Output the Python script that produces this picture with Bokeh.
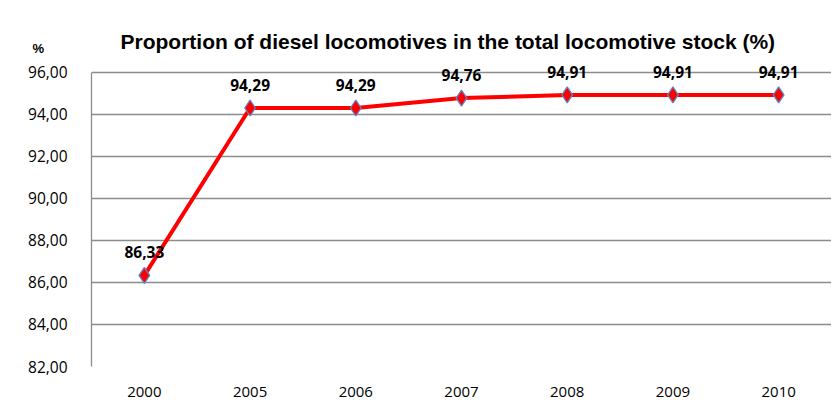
from bokeh.plotting import figure
from bokeh.models import ColumnDataSource, CustomJSTickFormatter, LabelSet, FactorRange, Range1d, SingleIntervalTicker, Title
from bokeh.core.properties import value
from bokeh.embed import file_html
from bokeh.resources import INLINE

years = ["2000", "2005", "2006", "2007", "2008", "2009", "2010"]
shares = [86.33, 94.29, 94.29, 94.76, 94.91, 94.91, 94.91]
labels = [f"{v:.2f}".replace(".", ",") for v in shares]
title_text = "Proportion of diesel locomotives in the total locomotive stock (%)"
unit_text = "%"
y_lo, y_hi = 82, 96

src = ColumnDataSource(dict(x=years, y=shares, lab=labels))

p = figure(width=831, height=400, output_backend="svg", toolbar_location=None,
           x_range=FactorRange(*years), y_range=Range1d(y_lo, y_hi + 0.5),
           min_border_left=91, min_border_right=0, min_border_top=61, min_border_bottom=34)
p.outline_line_color = None
p.xgrid.grid_line_color = None
p.ygrid.grid_line_color = "#8c8c8c"
p.ygrid.grid_line_width = 1.3
p.ygrid.bounds = (y_lo, y_hi)
p.yaxis.bounds = (y_lo, y_hi)
p.yaxis.ticker = SingleIntervalTicker(interval=2)
p.yaxis.formatter = CustomJSTickFormatter(code="return tick.toFixed(2).replace('.', ',');")
p.yaxis.axis_line_color = "#8c8c8c"
p.yaxis.axis_line_width = 1.3
p.yaxis.major_tick_line_color = None
p.yaxis.minor_tick_line_color = None
p.yaxis.major_label_text_font = "Open Sans"
p.yaxis.major_label_text_font_size = "15.5px"
p.yaxis.major_label_text_color = "#000000"
p.yaxis.major_label_standoff = 18
p.xaxis.axis_line_color = None
p.xaxis.major_tick_line_color = None
p.xaxis.minor_tick_line_color = None
p.xaxis.major_label_text_font = "Open Sans"
p.xaxis.major_label_text_font_size = "15px"
p.xaxis.major_label_text_color = "#000000"
p.xaxis.major_label_standoff = 14

p.line("x", "y", source=src, line_color="#ff0000", line_width=4)
p.scatter("x", "y", source=src, marker="diamond", size=16, fill_color="#ff0000",
          line_color="#5b87c5", line_width=1.3)
p.add_layout(LabelSet(x="x", y="y", text="lab", source=src, y_offset=23,
                      text_align="center", text_baseline="middle",
                      text_font=value("Open Sans"), text_font_style="bold",
                      text_font_size="15.5px", text_color="#000000"))

p.add_layout(Title(text=unit_text, align="left", offset=-59, standoff=12,
                   text_font="Liberation Sans", text_font_style="bold",
                   text_font_size="13px", text_color="#000000"), "above")
p.add_layout(Title(text=title_text, align="left", offset=29, standoff=-40,
                   text_font="Liberation Sans", text_font_style="bold",
                   text_font_size="21px", text_color="#000000"), "above")

open("out.html", "w").write(file_html(p, INLINE))
